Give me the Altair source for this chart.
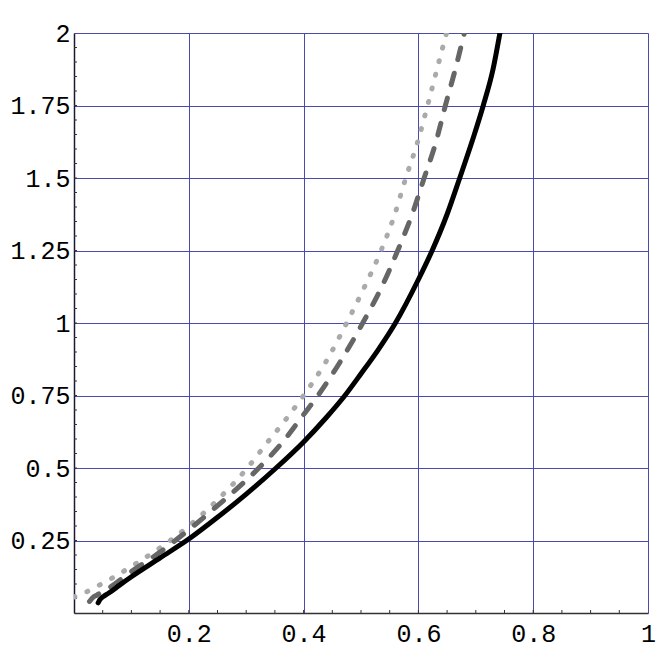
import altair as alt
import pandas as pd
import numpy as np

# Solid black curve
black_x = [0.042, 0.046, 0.052, 0.060, 0.080, 0.100, 0.150, 0.200, 0.250, 0.300, 0.352, 0.400,
           0.440, 0.472, 0.500, 0.529, 0.560, 0.600, 0.624, 0.650, 0.672, 0.695, 0.713, 0.730, 0.742]
black_y = [0.035, 0.048, 0.058, 0.068, 0.097, 0.125, 0.190, 0.255, 0.330, 0.410, 0.500, 0.590,
           0.675, 0.750, 0.825, 0.905, 1.000, 1.150, 1.250, 1.375, 1.500, 1.635, 1.750, 1.875, 2.000]

# Dashed dark-grey curve
dashed_x = [0.027, 0.032, 0.040, 0.060, 0.100, 0.150, 0.200, 0.250, 0.322, 0.360, 0.400, 0.425,
            0.465, 0.503, 0.535, 0.564, 0.590, 0.610, 0.630, 0.647, 0.665, 0.680]
dashed_y = [0.040, 0.052, 0.062, 0.085, 0.143, 0.210, 0.287, 0.370, 0.500, 0.581, 0.684, 0.750,
            0.870, 1.000, 1.120, 1.250, 1.380, 1.500, 1.620, 1.750, 1.880, 2.000]

# Dotted light-grey curve
dotted_x = [0.000, 0.024, 0.046, 0.067, 0.089, 0.110, 0.150, 0.200, 0.250, 0.302, 0.334, 0.370,
            0.400, 0.440, 0.475, 0.505, 0.535, 0.558, 0.578, 0.598, 0.616, 0.633, 0.649]
dotted_y = [0.055, 0.075, 0.098, 0.121, 0.147, 0.173, 0.225, 0.300, 0.390, 0.500, 0.581, 0.670,
            0.750, 0.870, 1.000, 1.120, 1.250, 1.370, 1.500, 1.620, 1.750, 1.880, 2.000]

x_ticks = [0.2, 0.4, 0.6, 0.8, 1.0]
y_ticks = [0.25, 0.5, 0.75, 1.0, 1.25, 1.5, 1.75, 2.0]
x_minor = [round(v, 2) for v in np.arange(0.05, 1.0, 0.05)]
y_minor = [round(v, 2) for v in np.arange(0.05, 2.0, 0.05)]

W = 574
H = 580
GRID = "#4a4aaa"
FONT = "Liberation Mono"

def mk(xs, ys, name):
    return pd.DataFrame({"x": xs, "y": ys, "s": name, "i": range(len(xs))})

df_black = mk(black_x, black_y, "solid")
df_dashed = mk(dashed_x, dashed_y, "dashed")
df_dotted = mk(dotted_x, dotted_y, "dotted")

xscale = alt.Scale(domain=[0, 1], nice=False, zero=False)
yscale = alt.Scale(domain=[0, 2], nice=False, zero=False)

xaxis = alt.Axis(values=x_ticks, title=None, grid=True, gridColor=GRID, gridWidth=1, gridOpacity=1,
                 ticks=False, domainColor="#333333", domainWidth=1.5, labelFont=FONT, labelFontSize=25,
                 labelColor="#000000", labelPadding=8, labelFlush=False, labelOverlap=False,
                 format=".2~f")
yaxis = alt.Axis(values=y_ticks, title=None, grid=True, gridColor=GRID, gridWidth=1, gridOpacity=1,
                 ticks=False, domainColor="#1a1a33", domainWidth=1.5, labelFont=FONT, labelFontSize=25,
                 labelColor="#000000", labelPadding=4, labelFlush=False, labelOverlap=False,
                 format=".2~f")

base_grid = alt.Chart(pd.DataFrame({"x": [0.0], "y": [0.0]})).mark_point(opacity=0).encode(
    x=alt.X("x:Q", scale=xscale, axis=xaxis),
    y=alt.Y("y:Q", scale=yscale, axis=yaxis),
)

ymin_df = pd.DataFrame({"y": y_minor})
xmin_df = pd.DataFrame({"x": x_minor})
y_minor_ticks = alt.Chart(ymin_df).mark_rule(color="#333333", strokeWidth=1).encode(
    y=alt.Y("y:Q", scale=yscale), x=alt.value(0), x2=alt.value(3))
x_minor_ticks = alt.Chart(xmin_df).mark_rule(color="#333333", strokeWidth=1).encode(
    x=alt.X("x:Q", scale=xscale), y=alt.value(H), y2=alt.value(H - 3))

def line(df, color, dash=None):
    kw = dict(color=color, strokeWidth=5, clip=True, strokeCap="round", strokeJoin="round",
              interpolate="monotone")
    if dash is not None:
        kw["strokeDash"] = dash
    return alt.Chart(df).mark_line(**kw).encode(
        x=alt.X("x:Q", scale=xscale),
        y=alt.Y("y:Q", scale=yscale),
        order="i:Q",
    )

l_dotted = line(df_dotted, "#aaaaaa", [1, 13])
l_dashed = line(df_dashed, "#666666", [12, 14])
l_black = line(df_black, "#000000")

chart = alt.layer(base_grid, y_minor_ticks, x_minor_ticks, l_dotted, l_dashed, l_black).properties(
    width=W, height=H,
    padding={"left": 66, "top": 25, "right": 10, "bottom": 45},
    autosize=alt.AutoSizeParams(type="none"),
).configure_view(stroke=GRID, strokeWidth=1).configure(background="white")

chart.save("out.html", embed_options={"renderer": "svg", "actions": False})
